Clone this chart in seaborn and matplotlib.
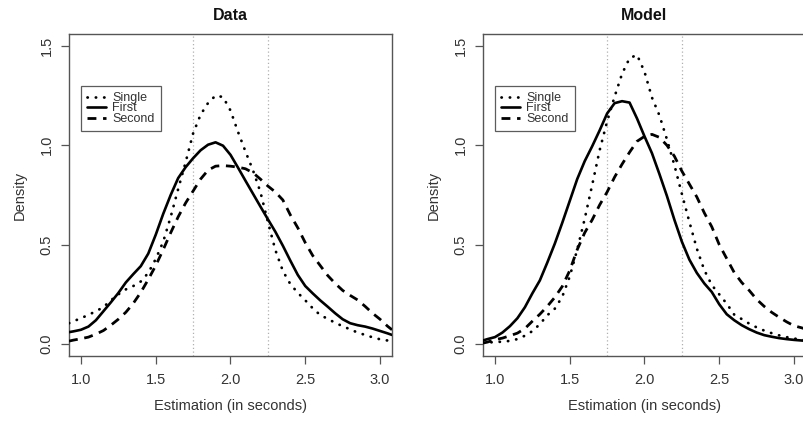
import numpy as np
import pandas as pd
import seaborn as sns
import matplotlib.pyplot as plt
from matplotlib.lines import Line2D

# -----------------------------------------------
# DATA
# -----------------------------------------------

x_grid = [0.92, 0.95, 1.00, 1.05, 1.10, 1.15, 1.20, 1.25, 1.30, 1.35, 1.40,
          1.45, 1.50, 1.55, 1.60, 1.65, 1.70, 1.75, 1.80, 1.85, 1.90, 1.95,
          2.00, 2.05, 2.10, 2.15, 2.20, 2.25, 2.30, 2.35, 2.40, 2.45, 2.50,
          2.55, 2.60, 2.65, 2.70, 2.75, 2.80, 2.85, 2.90, 2.95, 3.00, 3.05, 3.08]

data_single = [0.105, 0.115, 0.130, 0.147, 0.165, 0.186, 0.220, 0.250, 0.275, 0.292, 0.315,
               0.358, 0.428, 0.515, 0.640, 0.780, 0.915, 1.060, 1.154, 1.213, 1.250, 1.243,
               1.175, 1.068, 0.969, 0.875, 0.765, 0.615, 0.473, 0.368, 0.302, 0.258, 0.220,
               0.180, 0.146, 0.127, 0.107, 0.090, 0.074, 0.058, 0.046, 0.034, 0.024, 0.018, 0.015]
data_first = [0.060, 0.064, 0.072, 0.088, 0.120, 0.165, 0.210, 0.257, 0.310, 0.352, 0.392,
              0.455, 0.550, 0.655, 0.750, 0.835, 0.890, 0.935, 0.975, 1.003, 1.015, 0.998,
              0.952, 0.888, 0.822, 0.757, 0.692, 0.628, 0.565, 0.495, 0.420, 0.348, 0.292,
              0.255, 0.220, 0.188, 0.155, 0.125, 0.105, 0.095, 0.088, 0.078, 0.066, 0.054, 0.046]
data_second = [0.015, 0.020, 0.027, 0.035, 0.050, 0.068, 0.095, 0.125, 0.160, 0.205, 0.260,
               0.325, 0.395, 0.475, 0.560, 0.640, 0.710, 0.770, 0.830, 0.875, 0.895, 0.898,
               0.895, 0.890, 0.882, 0.862, 0.830, 0.795, 0.765, 0.725, 0.650, 0.585, 0.510,
               0.445, 0.395, 0.345, 0.305, 0.270, 0.245, 0.222, 0.190, 0.155, 0.125, 0.090, 0.072]

model_single = [0.008, 0.008, 0.010, 0.012, 0.016, 0.025, 0.042, 0.065, 0.100, 0.145, 0.178,
                0.238, 0.340, 0.475, 0.630, 0.800, 0.975, 1.120, 1.245, 1.360, 1.438, 1.455,
                1.370, 1.240, 1.150, 1.030, 0.900, 0.755, 0.615, 0.480, 0.372, 0.297, 0.250,
                0.203, 0.148, 0.126, 0.103, 0.084, 0.068, 0.055, 0.044, 0.035, 0.028, 0.022, 0.019]
model_first = [0.018, 0.025, 0.035, 0.058, 0.090, 0.130, 0.185, 0.255, 0.320, 0.410, 0.505,
               0.610, 0.720, 0.830, 0.920, 0.995, 1.075, 1.160, 1.212, 1.222, 1.215, 1.135,
               1.045, 0.960, 0.855, 0.745, 0.625, 0.515, 0.425, 0.358, 0.305, 0.262, 0.200,
               0.150, 0.120, 0.095, 0.075, 0.058, 0.045, 0.037, 0.030, 0.025, 0.021, 0.018, 0.016]
model_second = [0.005, 0.010, 0.022, 0.030, 0.042, 0.055, 0.078, 0.115, 0.150, 0.190, 0.235,
                0.290, 0.370, 0.475, 0.560, 0.625, 0.700, 0.765, 0.840, 0.905, 0.965, 1.020,
                1.045, 1.055, 1.040, 1.000, 0.945, 0.870, 0.805, 0.740, 0.660, 0.590, 0.500,
                0.430, 0.360, 0.310, 0.270, 0.225, 0.190, 0.160, 0.135, 0.112, 0.092, 0.082, 0.075]

conditions = ["Single", "First", "Second"]
panel_titles = ["Data", "Model"]
x_ticks = [1.0, 1.5, 2.0, 2.5, 3.0]
y_ticks = [0.0, 0.5, 1.0, 1.5]
ref_lines = [1.75, 2.25]

# -----------------------------------------------
# STYLE
# -----------------------------------------------

sns.set_theme(style="white")
plt.rcParams["font.family"] = ["Liberation Sans", "DejaVu Sans"]

estilos = {
    "Single": dict(linestyle=(0, (0.1, 2.9)), dash_capstyle="round", lw=2.0),
    "First": dict(linestyle="-", lw=1.9, solid_joinstyle="round"),
    "Second": dict(linestyle=(0, (3.2, 2.4)), dash_capstyle="butt", lw=2.0),
}

paineis = [
    ("Data", [data_single, data_first, data_second]),
    ("Model", [model_single, model_first, model_second]),
]

fig = plt.figure(figsize=(8.04, 4.22), dpi=100)
posicoes = [[69 / 804, 66 / 422, 323 / 804, 322 / 422],
            [483 / 804, 66 / 422, 323 / 804, 322 / 422]]

for pos, (titulo, series) in zip(posicoes, paineis):
    ax = fig.add_axes(pos)
    for xv in ref_lines:
        ax.axvline(xv, color="#b0b0b0", lw=0.9, linestyle=(0, (1, 2)), zorder=1)

    handles = []
    for nome, valores in zip(conditions, series):
        df = pd.DataFrame({"x": x_grid, "y": valores})
        sns.lineplot(data=df, x="x", y="y", ax=ax, color="black", zorder=3, **estilos[nome])
        handles.append(Line2D([], [], color="black", **estilos[nome]))

    ax.set_xlim(0.92, 3.08)
    ax.set_ylim(-0.06, 1.56)
    ax.set_xticks(x_ticks)
    ax.set_xticklabels([f"{v:.1f}" for v in x_ticks])
    ax.set_yticks(y_ticks)
    ax.set_yticklabels([f"{v:.1f}" for v in y_ticks], rotation=90, va="center")
    ax.tick_params(axis="both", direction="out", length=6, width=0.9, color="#555555",
                   labelsize=10.5, labelcolor="#333333", bottom=True, left=True)
    ax.tick_params(axis="x", pad=6)
    ax.tick_params(axis="y", pad=5)
    for sp in ax.spines.values():
        sp.set_color("#555555")
        sp.set_linewidth(1.0)

    ax.set_title(titulo, fontsize=11.5, fontweight="bold", pad=10, color="#111111")
    ax.set_xlabel("Estimation (in seconds)", fontsize=10.5, color="#333333", labelpad=9)
    ax.set_ylabel("Density", fontsize=10.5, color="#333333", labelpad=9)

    leg = ax.legend(handles, conditions, loc="upper left",
                    bbox_to_anchor=(1.0, 1.3), bbox_transform=ax.transData,
                    prop={"size": 9}, frameon=True, fancybox=False, handlelength=1.5,
                    handletextpad=0.5, labelspacing=-0.12, borderpad=0.5,
                    borderaxespad=0.0)
    leg.get_frame().set_edgecolor("#333333")
    leg.get_frame().set_linewidth(0.9)
    for t in leg.get_texts():
        t.set_color("#333333")

fig.savefig("out.png", dpi=100)
